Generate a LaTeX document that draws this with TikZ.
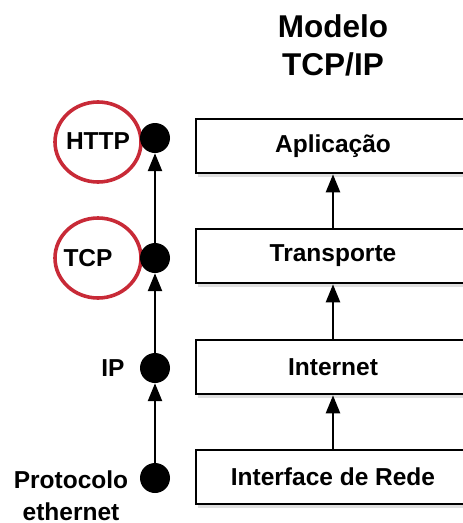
\documentclass[tikz,border=0pt]{standalone}
\usepackage{fontspec}
\setmainfont{Liberation Sans}
\usetikzlibrary{arrows.meta,shapes.geometric,shadows}
\tikzset{
  layer/.style={draw=black, line width=2.6pt, fill=white, minimum width=274pt,
    minimum height=54pt, inner sep=0pt,
    font=\bfseries\fontsize{24.5}{26}\selectfont,
    drop shadow={opacity=0.25, shadow xshift=2pt, shadow yshift=-4pt}},
  proto/.style={circle, fill=black, minimum size=30pt, inner sep=0pt},
  lbl/.style={font=\bfseries\fontsize{24.5}{32}\selectfont, align=center, inner sep=0pt},
  ring/.style={ellipse, draw={rgb,255:red,200;green,42;blue,55}, line width=3.6pt,
    minimum width=86pt, minimum height=80pt, inner sep=0pt},
  up/.style={draw=black, line width=2.4pt, -{Triangle[length=18pt,width=14pt]}},
}
\begin{document}
\begin{tikzpicture}[x=1pt,y=-1pt]
\useasboundingbox (0,0) rectangle (463,523);
\clip (0,0) rectangle (463,523);

% title (base anchor sits on the last line)
\node[font=\bfseries\fontsize{31.5}{38}\selectfont, align=center, anchor=base] (title) at (333,75) {Modelo\\TCP/IP};

% red highlight rings behind the labels
\node[ring] (ringhttp) at (98,142) {};
\node[ring] (ringtcp) at (98,258) {};

% TCP/IP layers
\node[layer] (app) at (333,146) {Aplicação};
\node[layer] (tra) at (333,256) {Transporte};
\node[layer] (net) at (333,367) {Internet};
\node[layer] (ifc) at (333,477) {Interface de Rede};

\draw[up] (tra) -- (app);
\draw[up] (net) -- (tra);
\draw[up] (ifc) -- (net);

% protocol stack
\node[proto] (dhttp) at (155,138) {};
\node[proto] (dtcp) at (155,258) {};
\node[proto] (dip) at (155,368) {};
\node[proto] (deth) at (155,478) {};

\node[lbl] (lhttp) at (98,141) {HTTP};
\node[lbl] (ltcp) at (88,258) {TCP};
\node[lbl] (lip) at (113,368) {IP};
\node[lbl, anchor=base] (leth) at (71,520) {Protocolo\\ethernet};

\draw[up] (dtcp) -- (dhttp);
\draw[up] (dip) -- (dtcp);
\draw[up] (deth) -- (dip);
\end{tikzpicture}
\end{document}
